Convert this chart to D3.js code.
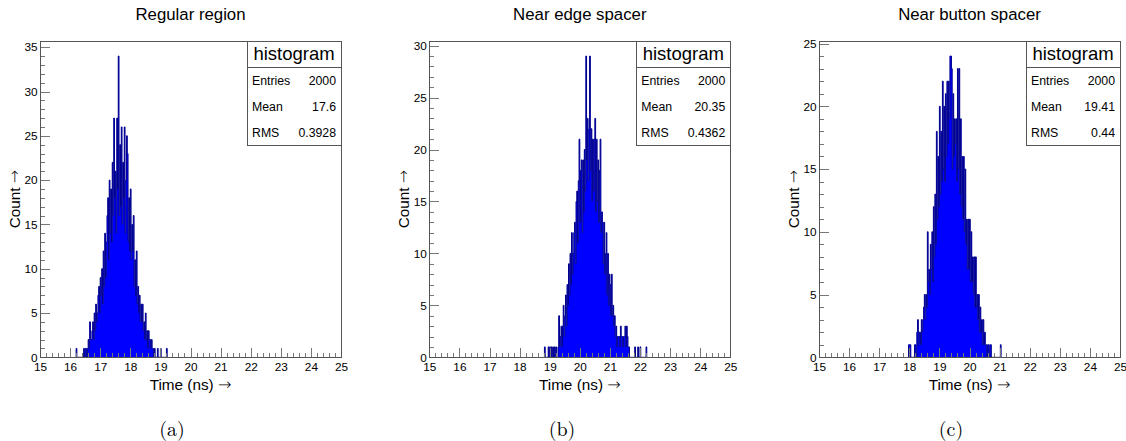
<!DOCTYPE html>
<html><head><meta charset="utf-8">
<script src="https://cdn.jsdelivr.net/npm/d3@7"></script>
<style>body{margin:0;background:#fff}</style>
</head><body>
<svg id="chart" width="1126" height="441"></svg>
<script>
// ---------------- data ----------------
const BIN_W = 0.025;                // ns per bin
const X_MIN = 15, X_MAX = 25;
const xTickLabels = [15,16,17,18,19,20,21,22,23,24,25];
const titles = ["Regular region", "Near edge spacer", "Near button spacer"];
const subLabels = ["(a)", "(b)", "(c)"];
const xTitle = "Time (ns)";
const yTitle = "Count";
const statNames = ["Entries", "Mean", "RMS"];
const statsA = ["2000", "17.6", "0.3928"];
const statsB = ["2000", "20.35", "0.4362"];
const statsC = ["2000", "19.41", "0.44"];
const yTicksA = [0,5,10,15,20,25,30,35];
const yTicksB = [0,5,10,15,20,25,30];
const yTicksC = [0,5,10,15,20,25];

const startA = 16.2;
const countsA = [
  1,0,0,0,0,0,0,0,0,0,1,0,
  1,1,0,1,2,1,4,2,2,3,4,2,
  5,3,6,4,5,7,8,5,9,7,10,6,
  12,8,14,9,13,16,18,11,20,14,19,13,
  22,16,27,18,21,14,27,19,34,16,24,17,
  26,15,22,18,26,14,20,25,23,13,18,12,
  19,11,15,12,16,8,11,7,12,6,8,5,
  7,4,6,4,6,3,4,2,5,2,3,1,
  3,2,2,1,2,1,1,0,1,0,0,0,
  1,0,0,0,1,0,0,0,0,0,0,0,
  1
];
const startB = 18.825;
const countsB = [
  1,0,0,0,0,1,0,1,0,1,0,1,
  0,1,0,1,0,0,1,4,1,2,3,1,
  3,5,2,4,6,3,7,5,9,6,10,7,
  12,8,10,12,13,9,15,16,11,17,21,13,
  18,19,12,19,14,20,16,29,19,23,17,22,
  29,18,22,15,21,16,21,23,14,21,15,19,
  13,18,21,12,14,13,9,13,8,10,12,6,
  10,5,8,7,4,8,4,5,3,4,2,3,
  1,2,2,2,1,3,2,2,1,2,2,3,
  1,3,2,1,1,0,0,0,0,0,0,0,
  1,0,0,0,1,0,0,1,0,0,0,0,
  0,0,0,1
];
const startC = 17.975;
const countsC = [
  1,1,1,0,0,0,0,0,1,1,0,2,
  3,1,2,2,1,3,2,3,4,5,3,5,
  4,10,6,7,5,9,7,10,6,12,8,13,
  9,18,11,16,12,20,13,18,14,22,15,20,
  14,21,16,22,17,22,19,24,24,23,15,21,
  16,19,17,19,14,23,15,23,13,19,12,16,
  11,16,10,15,9,11,7,11,7,11,6,10,
  6,8,5,8,4,8,4,5,3,5,2,4,
  2,3,1,3,1,2,1,1,0,1,1,0,
  1,1,0,0,0,0,0,0,0,0,0,0,
  0,0,1
];

// ---------------- layout ----------------
const FRAME_L = [40, 429.3, 819];
const FW = 301, FT = 41, FB = 357.3;
const STAT_W = 94, STAT_H = 104.7, STAT_HEAD = 26.7;
const SUB_X = [172, 562, 951];
const SANS = "'Liberation Sans', Arial, Helvetica, sans-serif";
const ARROW_FONT = "'DejaVu Sans', sans-serif";
const SERIF = "'Latin Modern Roman','CMU Serif','DejaVu Serif', serif";
const FILL = "#0000ff", LINE = "#00008f", FRAME = "#555", TICK = "#777";

const panels = [
  {title: titles[0], sub: subLabels[0], stats: statsA, yTicks: yTicksA, start: startA, counts: countsA},
  {title: titles[1], sub: subLabels[1], stats: statsB, yTicks: yTicksB, start: startB, counts: countsB},
  {title: titles[2], sub: subLabels[2], stats: statsC, yTicks: yTicksC, start: startC, counts: countsC}
];

const svg = d3.select("#chart");

function arrowTitle(sel, label) {
  sel.append("tspan").text(label + " ");
  sel.append("tspan").attr("font-family", ARROW_FONT).attr("font-weight", 200)
    .attr("font-size", "16px").text("\u2192");
}

panels.forEach((p, i) => {
  const L = FRAME_L[i], R = L + FW;
  const x = d3.scaleLinear().domain([X_MIN, X_MAX]).range([L, R]);
  const ymax = d3.max(p.counts) * 1.05;
  const y = d3.scaleLinear().domain([0, ymax]).range([FB, FT]);
  const g = svg.append("g");

  const clipId = "clip" + i;
  svg.append("clipPath").attr("id", clipId)
    .append("rect").attr("x", L).attr("y", FT).attr("width", FW).attr("height", FB - FT);

  const pts = p.counts.map((c, k) => ({t: p.start + k * BIN_W, c}));
  const endPt = {t: p.start + p.counts.length * BIN_W, c: 0};

  const area = d3.area().x(d => x(d.t)).y0(y(0)).y1(d => y(d.c)).curve(d3.curveStepAfter);
  const line = d3.line().x(d => x(d.t)).y(d => y(d.c)).curve(d3.curveStepAfter);

  const hg = g.append("g").attr("clip-path", `url(#${clipId})`);
  hg.append("path").datum(pts.concat([endPt]))
    .attr("d", area).attr("fill", FILL).attr("stroke", "none");
  hg.append("path").datum([{t: p.start, c: 0}].concat(pts, [endPt]))
    .attr("d", line).attr("fill", "none").attr("stroke", LINE).attr("stroke-width", 1);

  // x axis ticks (inside frame)
  const xMinor = d3.range(0, 51).filter(k => k % 5 !== 0).map(k => X_MIN + k * 0.2);
  g.append("g").attr("transform", `translate(0,${FB})`)
    .call(d3.axisBottom(x).tickValues(xMinor).tickSize(-4.5).tickFormat(""))
    .call(a => a.select(".domain").remove());
  g.append("g").attr("transform", `translate(0,${FB})`)
    .call(d3.axisBottom(x).tickValues(xTickLabels).tickSize(-9).tickPadding(5.2).tickFormat(d3.format("d")))
    .call(a => a.select(".domain").remove())
    .call(a => a.selectAll("text").attr("font-family", SANS).attr("font-size", "11.8px").attr("fill", "#000"));

  // y axis ticks
  const yMinor = d3.range(0, Math.floor(ymax) + 1).filter(v => v % 5 !== 0);
  g.append("g").attr("transform", `translate(${L},0)`)
    .call(d3.axisLeft(y).tickValues(yMinor).tickSize(-5).tickFormat(""))
    .call(a => a.select(".domain").remove());
  g.append("g").attr("transform", `translate(${L},0)`)
    .call(d3.axisLeft(y).tickValues(p.yTicks).tickSize(-10).tickPadding(2.5).tickFormat(d3.format("d")))
    .call(a => a.select(".domain").remove())
    .call(a => a.selectAll("text").attr("font-family", SANS).attr("font-size", "11.8px").attr("fill", "#000"));

  g.selectAll(".tick line").attr("stroke", TICK).attr("shape-rendering", "crispEdges");

  // frame
  g.append("rect").attr("x", L).attr("y", FT).attr("width", FW).attr("height", FB - FT)
    .attr("fill", "none").attr("stroke", FRAME).attr("stroke-width", 1).attr("shape-rendering", "crispEdges");

  // stats box
  const bx = R - STAT_W;
  g.append("rect").attr("x", bx).attr("y", FT).attr("width", STAT_W).attr("height", STAT_H)
    .attr("fill", "#fff").attr("stroke", FRAME).attr("stroke-width", 1).attr("shape-rendering", "crispEdges");
  g.append("line").attr("x1", bx).attr("x2", R).attr("y1", FT + STAT_HEAD).attr("y2", FT + STAT_HEAD)
    .attr("stroke", FRAME).attr("shape-rendering", "crispEdges");
  g.append("text").attr("x", bx + STAT_W / 2).attr("y", FT + 18.5).attr("text-anchor", "middle")
    .attr("font-family", SANS).attr("font-size", "18.5px").text("histogram");
  statNames.forEach((nm, r) => {
    const by = FT + 44.2 + r * 26;
    g.append("text").attr("x", bx + 5).attr("y", by).attr("font-family", SANS).attr("font-size", "12.3px").text(nm);
    g.append("text").attr("x", R - 5).attr("y", by).attr("text-anchor", "end")
      .attr("font-family", SANS).attr("font-size", "12.3px").text(p.stats[r]);
  });

  // titles and axis titles
  g.append("text").attr("x", L + FW / 2).attr("y", 19.5).attr("text-anchor", "middle")
    .attr("font-family", SANS).attr("font-size", "16.8px").text(p.title);
  g.append("text").attr("x", L + FW / 2).attr("y", 390).attr("text-anchor", "middle")
    .attr("font-family", SANS).attr("font-size", "15.3px").call(arrowTitle, xTitle);
  g.append("text").attr("transform", `translate(${L - 20.5},199) rotate(-90)`).attr("text-anchor", "middle")
    .attr("font-family", SANS).attr("font-size", "15.3px").call(arrowTitle, yTitle);
  g.append("text").attr("x", SUB_X[i]).attr("y", 436).attr("text-anchor", "middle")
    .attr("font-family", SERIF).attr("font-size", "20px").text(p.sub);
});
</script>
</body></html>
